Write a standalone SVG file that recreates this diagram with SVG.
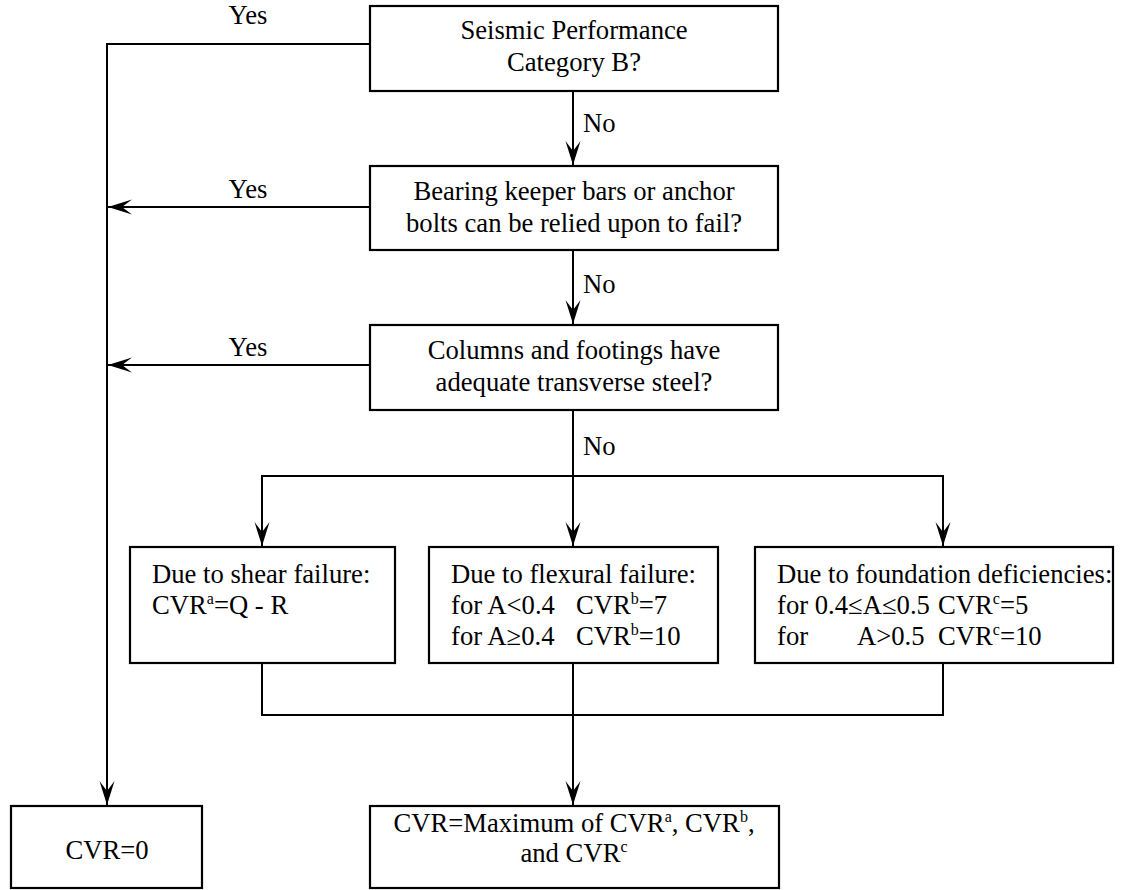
<svg xmlns="http://www.w3.org/2000/svg" width="1122" height="890" viewBox="0 0 1122 890">
  <style>
    .box { fill: #ffffff; stroke: #000000; stroke-width: 2.2; }
    .wire { fill: none; stroke: #000000; stroke-width: 2; }
    .txt { font-family: "Liberation Serif", "DejaVu Serif", serif; font-size: 26.67px; fill: #000000; }
    .mid { text-anchor: middle; }
    .sup { font-size: 16px; }
  </style>
  <defs>
    <marker id="arrow" markerUnits="userSpaceOnUse" markerWidth="30" markerHeight="20" viewBox="-26 -10 28 20" refX="0" refY="0" orient="auto">
      <path d="M0,0 L-24,-7.5 L-14,0 L-24,7.5 Z" fill="#000000"/>
    </marker>
  </defs>
  <rect width="1122" height="890" fill="#ffffff"/>

  <!-- connectors -->
  <g id="connectors">
    <!-- Yes branch from the top decision down to CVR=0 -->
    <polyline class="wire" points="370,44 107,44 107,805" marker-end="url(#arrow)"/>
    <line class="wire" x1="370" y1="207" x2="108" y2="207" marker-end="url(#arrow)"/>
    <line class="wire" x1="370" y1="365" x2="108" y2="365" marker-end="url(#arrow)"/>
    <!-- No branches -->
    <line class="wire" x1="573" y1="91" x2="573" y2="165" marker-end="url(#arrow)"/>
    <line class="wire" x1="573" y1="250" x2="573" y2="324" marker-end="url(#arrow)"/>
    <line class="wire" x1="573" y1="410" x2="573" y2="546" marker-end="url(#arrow)"/>
    <polyline class="wire" points="262,546 262,476 943,476 943,546"/>
    <line class="wire" x1="262" y1="476" x2="262" y2="546" marker-end="url(#arrow)"/>
    <line class="wire" x1="943" y1="476" x2="943" y2="546" marker-end="url(#arrow)"/>
    <!-- merge into the result box -->
    <polyline class="wire" points="262,663 262,715 943,715 943,663"/>
    <line class="wire" x1="573" y1="663" x2="573" y2="805" marker-end="url(#arrow)"/>
    <!-- labels -->
    <text class="txt mid" x="248" y="24">Yes</text>
    <text class="txt mid" x="248" y="198">Yes</text>
    <text class="txt mid" x="248" y="356">Yes</text>
    <text class="txt" x="583" y="132">No</text>
    <text class="txt" x="583" y="293">No</text>
    <text class="txt" x="583" y="455">No</text>
  </g>

  <g id="q-category">
    <rect class="box" x="370" y="6" width="408" height="85"/>
    <text class="txt mid" x="574" y="39">Seismic Performance</text>
    <text class="txt mid" x="574" y="71">Category B?</text>
  </g>

  <g id="q-keeper">
    <rect class="box" x="370" y="166" width="408" height="84"/>
    <text class="txt mid" x="574" y="200">Bearing keeper bars or anchor</text>
    <text class="txt mid" x="574" y="232">bolts can be relied upon to fail?</text>
  </g>

  <g id="q-steel">
    <rect class="box" x="370" y="325" width="408" height="85"/>
    <text class="txt mid" x="574" y="359">Columns and footings have</text>
    <text class="txt mid" x="574" y="391">adequate transverse steel?</text>
  </g>

  <g id="shear">
    <rect class="box" x="130" y="547" width="265" height="116"/>
    <text class="txt" x="152" y="583">Due to shear failure:</text>
    <text class="txt" x="152" y="614">CVR<tspan class="sup" dy="-10">a</tspan><tspan dy="10">=Q - R</tspan></text>
  </g>

  <g id="flexural">
    <rect class="box" x="429" y="547" width="289" height="116"/>
    <text class="txt" x="451" y="583">Due to flexural failure:</text>
    <text class="txt" x="451" y="614">for A&lt;0.4</text>
    <text class="txt" x="576" y="614">CVR<tspan class="sup" dy="-10">b</tspan><tspan dy="10">=7</tspan></text>
    <text class="txt" x="451" y="645">for A≥0.4</text>
    <text class="txt" x="576" y="645">CVR<tspan class="sup" dy="-10">b</tspan><tspan dy="10">=10</tspan></text>
  </g>

  <g id="foundation">
    <rect class="box" x="755" y="547" width="358" height="116"/>
    <text class="txt" x="777" y="583">Due to foundation deficiencies:</text>
    <text class="txt" x="777" y="614">for 0.4≤A≤0.5</text>
    <text class="txt" x="938" y="614">CVR<tspan class="sup" dy="-10">c</tspan><tspan dy="10">=5</tspan></text>
    <text class="txt" x="777" y="645">for</text>
    <text class="txt" x="857" y="645">A&gt;0.5</text>
    <text class="txt" x="938" y="645">CVR<tspan class="sup" dy="-10">c</tspan><tspan dy="10">=10</tspan></text>
  </g>

  <g id="cvr-max">
    <rect class="box" x="370" y="806" width="409" height="82"/>
    <text class="txt mid" x="574" y="832">CVR=Maximum of CVR<tspan class="sup" dy="-10">a</tspan><tspan dy="10">, CVR</tspan><tspan class="sup" dy="-10">b</tspan><tspan dy="10">,</tspan></text>
    <text class="txt mid" x="574" y="862">and CVR<tspan class="sup" dy="-10">c</tspan></text>
  </g>

  <g id="cvr-zero">
    <rect class="box" x="11" y="806" width="191" height="82"/>
    <text class="txt mid" x="107" y="859">CVR=0</text>
  </g>
</svg>
